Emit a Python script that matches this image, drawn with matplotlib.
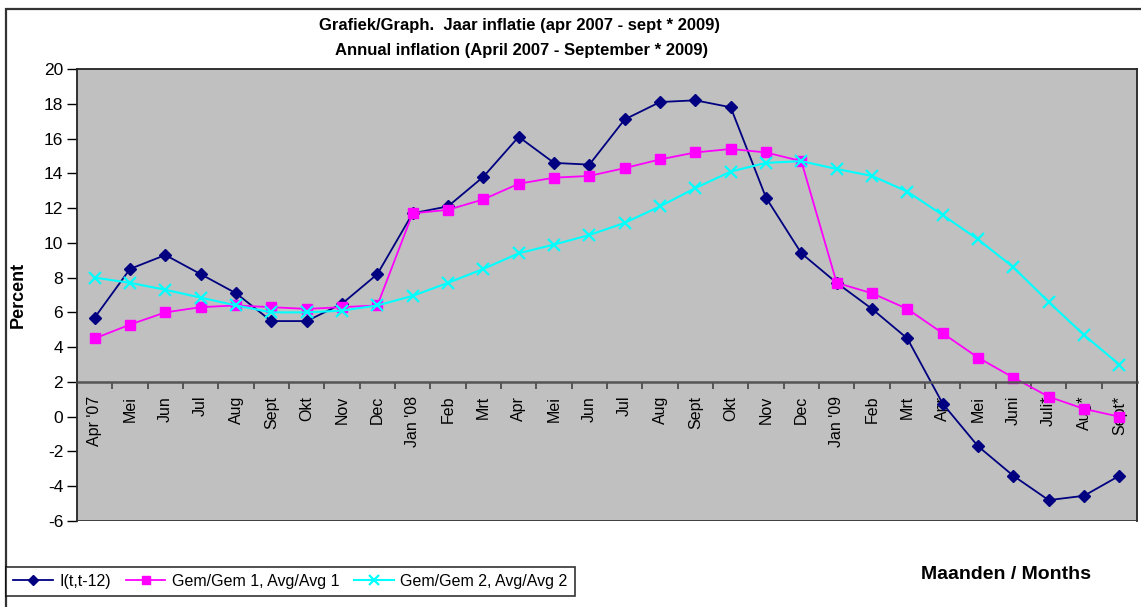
import numpy as np
import matplotlib.pyplot as plt
from matplotlib.patches import Rectangle

plt.rcParams['font.family'] = ['Liberation Sans', 'DejaVu Sans']
plt.rcParams['axes.unicode_minus'] = False

months = ["Apr '07", "Mei", "Jun", "Jul", "Aug", "Sept", "Okt", "Nov", "Dec",
          "Jan '08", "Feb", "Mrt", "Apr", "Mei", "Jun", "Jul", "Aug", "Sept",
          "Okt", "Nov", "Dec", "Jan '09", "Feb", "Mrt", "Apr", "Mei", "Juni",
          "Juli*", "Aug*", "Sept*"]

inflation = [5.7, 8.5, 9.3, 8.2, 7.1, 5.5, 5.5, 6.5, 8.2,
             11.7, 12.1, 13.8, 16.1, 14.6, 14.5, 17.1, 18.1, 18.2,
             17.8, 12.6, 9.4, 7.7, 6.2, 4.5, 0.75, -1.7, -3.4,
             -4.8, -4.55, -3.4]
avg1 = [4.5, 5.3, 6.0, 6.3, 6.4, 6.3, 6.2, 6.3, 6.4,
        11.7, 11.9, 12.5, 13.4, 13.75, 13.85, 14.3, 14.8, 15.2,
        15.4, 15.2, 14.7, 7.7, 7.1, 6.2, 4.8, 3.4, 2.25,
        1.15, 0.45, 0.0]
avg2 = [8.0, 7.7, 7.3, 6.85, 6.4, 6.0, 6.0, 6.1, 6.4,
        6.95, 7.7, 8.5, 9.4, 9.9, 10.45, 11.15, 12.1, 13.15,
        14.1, 14.6, 14.7, 14.25, 13.85, 12.95, 11.6, 10.2, 8.6,
        6.6, 4.7, 3.0]

x = np.arange(len(months)) + 0.5

fig = plt.figure(figsize=(11.41, 6.07), dpi=100)
# outer chart border (runs off the right and bottom edges)
fig.patches.append(Rectangle((0.0053, -0.05), 1.1, 1.035, transform=fig.transFigure,
                             fill=False, edgecolor='#333333', linewidth=1.6))

ax = fig.add_axes([0.0675, 0.1417, 0.929, 0.7446])
ax.set_facecolor('#C0C0C0')

l1, = ax.plot(x, inflation, color='#000080', marker='D', markersize=6.5, linewidth=1.3,
              label='I(t,t-12)')
l2, = ax.plot(x, avg1, color='#FF00FF', marker='s', markersize=7, linewidth=1.3,
              label='Gem/Gem 1, Avg/Avg 1')
l3, = ax.plot(x, avg2, color='#00FFFF', marker='x', markersize=9, markeredgewidth=1.6,
              linewidth=1.5, label='Gem/Gem 2, Avg/Avg 2')

ax.set_xlim(0, len(months))
ax.set_ylim(-6, 20)
ax.set_yticks(np.arange(-6, 21, 2))
ax.tick_params(axis='y', labelsize=12.5, length=7, direction='out', width=1, pad=3)

# category axis crosses at y = 2
ax.spines['bottom'].set_position(('data', 2))
ax.spines['bottom'].set_color('#555555')
ax.spines['bottom'].set_linewidth(1.8)
for s in ['top', 'right', 'left']:
    ax.spines[s].set_color('#222222')
    ax.spines[s].set_linewidth(1.3)
ax.add_patch(Rectangle((0, 0), 1, 1, transform=ax.transAxes, fill=False,
                       edgecolor='#333333', linewidth=1.3, zorder=5))
ax.set_xticks(np.arange(0, len(months) + 1))
ax.set_xticklabels([])
ax.set_xticks(x, minor=True)
ax.set_xticklabels(months, minor=True, rotation=90, fontsize=11.5, va='top')
ax.tick_params(axis='x', which='major', length=5, color='#444444', width=1.2,
               direction='out')
ax.tick_params(axis='x', which='minor', length=0, pad=10)

ax.set_ylabel('Percent', fontsize=13, fontweight='bold', labelpad=12)

fig.text(0.455, 0.9506, 'Grafiek/Graph.  Jaar inflatie (apr 2007 - sept * 2009)',
         ha='center', va='baseline', fontsize=12, fontweight='bold')
fig.text(0.457, 0.9094, 'Annual inflation (April 2007 - September * 2009)',
         ha='center', va='baseline', fontsize=12, fontweight='bold')
fig.text(0.882, 0.053, 'Maanden / Months', ha='center', va='center',
         fontsize=14, fontweight='bold')

leg = fig.legend(handles=[l1, l2, l3], loc='lower left', ncol=3,
                 bbox_to_anchor=(0.0053, 0.018), fontsize=11.5, frameon=True,
                 fancybox=False, edgecolor='black', handlelength=2.5,
                 columnspacing=0.9, handletextpad=0.4, borderpad=0.45,
                 borderaxespad=0, markerscale=0.8)
leg.get_frame().set_linewidth(1.2)

fig.savefig('out.png', dpi=100)
